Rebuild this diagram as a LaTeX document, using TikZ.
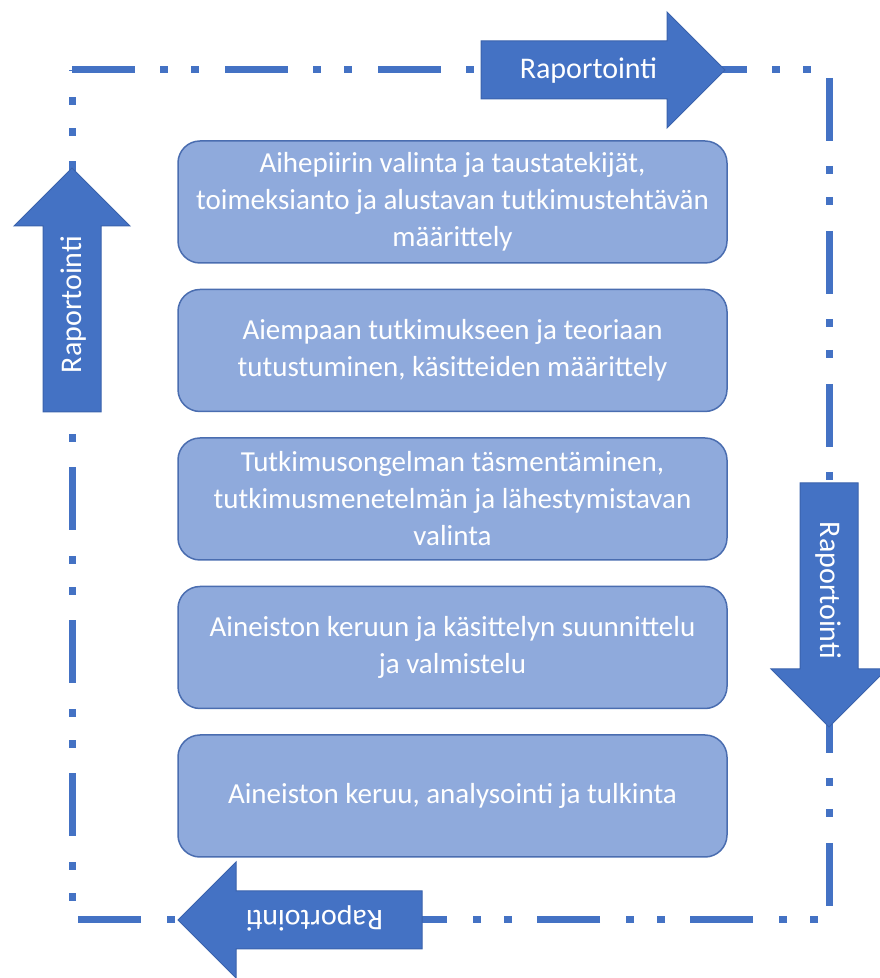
\documentclass[tikz,border=0pt]{standalone}
\usepackage{fontspec}
\setmainfont{Carlito}
\usetikzlibrary{arrows.meta,positioning,shapes.arrows}
\definecolor{nuoli}{HTML}{4472C4}
\definecolor{nuolireuna}{HTML}{3A62AC}
\definecolor{vaihetausta}{HTML}{8FAADC}
\definecolor{vaiheraja}{HTML}{4A6DB0}

\begin{document}
\begin{tikzpicture}[
    x=1pt, y=1pt,
    font=\fontsize{29}{37}\selectfont,
    vaihe/.style={
      draw=vaiheraja, line width=1.5pt, rounded corners=22pt, align=center,
      minimum width=549pt, minimum height=122pt, inner sep=4pt,
      fill=vaihetausta, text=white
    },
    raportti/.style={
      single arrow, draw=nuolireuna, line width=1pt, fill=nuoli, text=white,
      minimum height=244pt, single arrow head extend=29pt,
      inner ysep=17.5pt, text height=20pt, text depth=2pt,
      font=\fontsize{30}{32}\selectfont
    },
    kehys/.style={
      draw=nuoli, line width=7pt,
      dash pattern=on 63pt off 25pt on 8pt off 23pt on 8pt off 26pt
    }
  ]
    \useasboundingbox (0,0) rectangle (880,978);

    % --- Kehys (katkoviiva) ---
    \coordinate (vy) at (72,908);
    \coordinate (oy) at (829,908);
    \coordinate (oa) at (829,58);
    \coordinate (va) at (72,58);
    \draw[kehys] (vy) -- (oy) -- (oa) -- (va) -- cycle;

    % --- Raportointi-nuolet ---
    \node[raportti] (rapylä) at (588.5,908) {Raportointi};
    \node[raportti, rotate=-90] (rapoikea) at (829,387.5) {Raportointi};
    \node[raportti, rotate=180] (rapala) at (314.5,58) {Raportointi};
    \node[raportti, rotate=90] (rapvasen) at (72,673.5) {Raportointi};

    % --- Tutkimuksen vaiheet ---
    \node[vaihe] (v1) at (452.5,776)
      {Aihepiirin valinta ja taustatekijät,\\toimeksianto ja alustavan tutkimustehtävän\\määrittely};
    \node[vaihe, below=25pt of v1] (v2)
      {Aiempaan tutkimukseen ja teoriaan\\tutustuminen, käsitteiden määrittely};
    \node[vaihe, below=25pt of v2] (v3)
      {Tutkimusongelman täsmentäminen,\\tutkimusmenetelmän ja lähestymistavan\\valinta};
    \node[vaihe, below=25pt of v3] (v4)
      {Aineiston keruun ja käsittelyn suunnittelu\\ja valmistelu};
    \node[vaihe, below=25pt of v4] (v5)
      {Aineiston keruu, analysointi ja tulkinta};
  \end{tikzpicture}
\end{document}
